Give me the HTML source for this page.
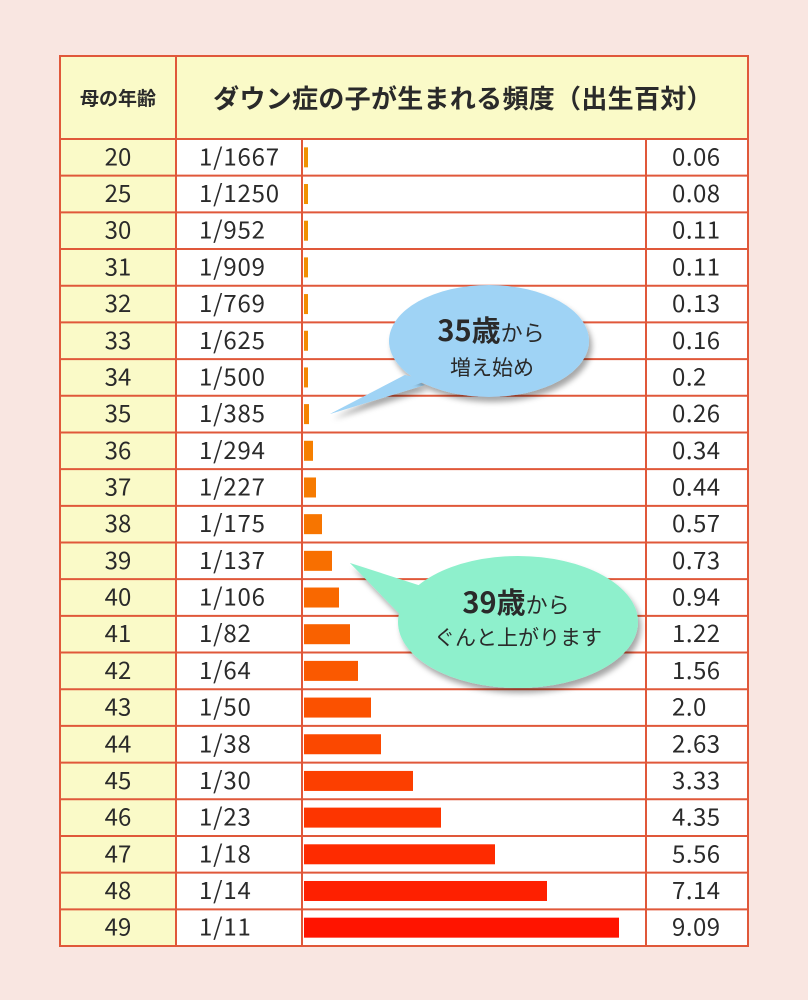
<!DOCTYPE html>
<html><head><meta charset="utf-8"><style>
body{margin:0;background:#f9e6e1;}
svg{display:block}
text{font-family:"Noto Sans CJK JP","Liberation Sans",sans-serif;fill:#2a2a2a}
</style></head><body>
<svg width="808" height="1000" viewBox="0 0 808 1000" xmlns="http://www.w3.org/2000/svg">
<defs>
<filter id="sh" x="-20%" y="-20%" width="140%" height="150%"><feDropShadow dx="3" dy="5" stdDeviation="3" flood-color="#000" flood-opacity="0.35"/></filter>
</defs>
<rect x="0" y="0" width="808" height="1000" fill="#f9e6e1"/>
<rect x="60" y="56" width="688" height="890" fill="#fff"/>
<rect x="60" y="56" width="688" height="83" fill="#fafac8"/>
<rect x="60" y="139" width="116" height="807" fill="#fafac8"/>
<text x="118" y="105" font-size="19" font-weight="bold" text-anchor="middle">母の年齢</text>
<text x="463" y="108" font-size="26" font-weight="bold" text-anchor="middle" letter-spacing="0.3">ダウン症の子が生まれる頻度（出生百対）</text>
<g id="rows"></g>
<g stroke="#e0583a" stroke-width="2" fill="none">
<rect x="60" y="56" width="688" height="890"/>
<line x1="176" y1="56" x2="176" y2="946"/>
<line x1="302" y1="139" x2="302" y2="946"/>
<line x1="646" y1="139" x2="646" y2="946"/>
<line x1="60" y1="139" x2="748" y2="139"/>
</g>
<g id="bub">
<path d="M405,375 L330,414 L425,385 Z" fill="#9fd3f5" filter="url(#sh)"/>
<ellipse cx="489" cy="341" rx="100" ry="56" fill="#9fd3f5" filter="url(#sh)"/>
<path d="M430,595 L350,563 L415,630 Z" fill="#8ef0cc" filter="url(#sh)"/>
<ellipse cx="518" cy="622" rx="120" ry="66" fill="#8ef0cc" filter="url(#sh)"/>
<path d="M405,375 L330,414 L430,380 Z" fill="#9fd3f5"/>
<path d="M440,592 L350,563 L420,630 Z" fill="#8ef0cc"/>
<text x="491" y="341" font-size="29" font-weight="bold" text-anchor="middle" fill="#111">35歳<tspan font-size="22" font-weight="normal">から</tspan></text>
<text x="492" y="375" font-size="21" text-anchor="middle">増え始め</text>
<text x="516" y="613" font-size="29" font-weight="bold" text-anchor="middle" fill="#111">39歳<tspan font-size="22" font-weight="normal">から</tspan></text>
<text x="518" y="645" font-size="21" text-anchor="middle">ぐんと上がります</text>
</g>
</svg>
<script>
var d=[[20,"1/1667",4,"0.06"],[25,"1/1250",4,"0.08"],[30,"1/952",4,"0.11"],[31,"1/909",4,"0.11"],[32,"1/769",4,"0.13"],[33,"1/625",4,"0.16"],[34,"1/500",4,"0.2"],[35,"1/385",5,"0.26"],[36,"1/294",9,"0.34"],[37,"1/227",12,"0.44"],[38,"1/175",18,"0.57"],[39,"1/137",28,"0.73"],[40,"1/106",35,"0.94"],[41,"1/82",46,"1.22"],[42,"1/64",54,"1.56"],[43,"1/50",67,"2.0"],[44,"1/38",77,"2.63"],[45,"1/30",109,"3.33"],[46,"1/23",137,"4.35"],[47,"1/18",191,"5.56"],[48,"1/14",243,"7.14"],[49,"1/11",315,"9.09"]];
var g=document.getElementById("rows"),s="",h=(946-139)/22;
d.forEach(function(r,i){
var y=139+i*h,cy=y+h/2;
var t=i/21;var gr=Math.round(145-125*t*t),rr=Math.round(240+15*t);
s+='<rect x="304" y="'+(cy-10)+'" width="'+r[2]+'" height="20" fill="rgb('+rr+','+gr+',0)"/>';
s+='<text x="118" y="'+(cy+8)+'" font-size="24" text-anchor="middle">'+r[0]+'</text>';
s+='<text x="199" y="'+(cy+8)+'" font-size="24" letter-spacing="0.8">'+r[1]+'</text>';
s+='<text x="672" y="'+(cy+8)+'" font-size="24" letter-spacing="0.5">'+r[3]+'</text>';
if(i>0)s+='<line x1="60" x2="748" y1="'+y+'" y2="'+y+'" stroke="#e0583a" stroke-width="2"/>';
});
g.innerHTML=s;
</script>
</body></html>
